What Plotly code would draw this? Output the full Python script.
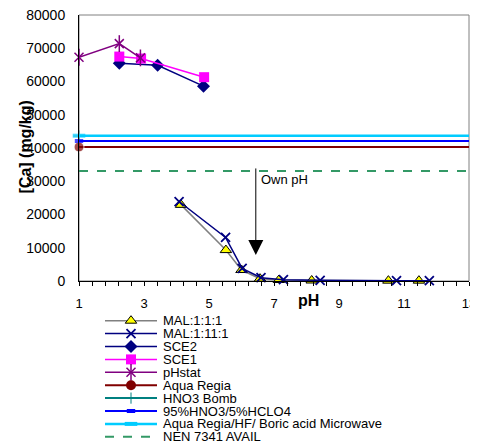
import plotly.graph_objects as go

# ---------------- data ----------------
mal111_ph = [4.14, 5.52, 6.00, 6.57, 7.15, 8.16, 10.52, 11.46]
mal111_ca = [22900, 9300, 3300, 700, 300, 150, 100, 100]

mal1111_ph = [4.08, 5.51, 6.02, 6.60, 7.29, 8.42, 10.77, 11.78]
mal1111_ca = [23900, 13100, 3800, 1000, 400, 200, 100, 100]

sce2_ph = [2.24, 3.42, 4.83]
sce2_ca = [65500, 64900, 58600]

sce1_ph = [2.24, 2.91, 4.85]
sce1_ca = [67500, 66900, 61300]

phstat_ph = [1.0, 2.24, 2.89]
phstat_ca = [67300, 71400, 67100]

ref_ph = [1, 13]
aqua_regia = 40300
hno3_bomb = 43600
hno3_hclo4 = 42100
aqua_hf = 43700
nen7341 = 33100

own_ph = 6.44
own_ph_top = 34300
own_ph_tip = 7800

x_ticks = [1, 3, 5, 7, 9, 11, 13]
y_ticks = [0, 10000, 20000, 30000, 40000, 50000, 60000, 70000, 80000]

legend_names = ["MAL:1:1:1", "MAL:1:11:1", "SCE2", "SCE1", "pHstat", "Aqua Regia",
                "HNO3 Bomb", "95%HNO3/5%HCLO4", "Aqua Regia/HF/ Boric acid Microwave",
                "NEN 7341 AVAIL"]

# ---------------- layout geometry (page pixels) ----------------
FONT = "Liberation Sans, Arial, sans-serif"
PAGE_W, PAGE_H = 478, 446
OFF = 8  # default page body margin
W, H = PAGE_W - OFF, PAGE_H - OFF


def fx(px):
    return px - OFF


def fy(py):
    return py - OFF


PX_L, PX_R, PX_T, PX_B = fx(79), fx(469), fy(15), fy(281)

PURPLE = "#800080"
styles = [
    dict(line=dict(color="#808080", width=1.5), marker=dict(symbol="triangle-up", size=10, color="#FFFF00", line=dict(color="black", width=1))),
    dict(line=dict(color="#000080", width=1.5), marker=dict(symbol="x-thin", size=9, color="#000080", line=dict(color="#000080", width=1.8))),
    dict(line=dict(color="#000080", width=1.5), marker=dict(symbol="diamond", size=10, color="#000080")),
    dict(line=dict(color="#FF00FF", width=1.5), marker=dict(symbol="square", size=10, color="#FF00FF")),
    dict(line=dict(color=PURPLE, width=1.5), marker=dict(symbol="x-thin", size=9, color=PURPLE, line=dict(color=PURPLE, width=1.5))),
    dict(line=dict(color="#800000", width=2), marker=dict(symbol="circle", size=10, color="#800000")),
    dict(line=dict(color="#008080", width=2), marker=dict(symbol="cross-thin", size=8, color="#008080", line=dict(color="#008080", width=1))),
    dict(line=dict(color="#0000FF", width=2), marker=dict(symbol="line-ew", size=6, color="#0000FF", line=dict(color="#0000FF", width=4))),
    dict(line=dict(color="#00CCFF", width=2.5), marker=dict(symbol="line-ew", size=9, color="#00CCFF", line=dict(color="#00CCFF", width=4))),
    dict(line=dict(color="#339966", width=2, dash="dash"), marker=None),
]
# vertical stroke that completes the pHstat star marker
star_bar = dict(symbol="line-ns", size=12, color=PURPLE, line=dict(color=PURPLE, width=1.5))

fig = go.Figure()

series = [
    (mal111_ph, mal111_ca),
    (mal1111_ph, mal1111_ca),
    (sce2_ph, sce2_ca),
    (sce1_ph, sce1_ca),
    (phstat_ph, phstat_ca),
]
for i, (xs, ys) in enumerate(series):
    st = styles[i]
    fig.add_trace(go.Scatter(x=xs, y=ys, mode="lines+markers", name=legend_names[i],
                             line=st["line"], marker=st["marker"], cliponaxis=False,
                             showlegend=False))
    if i == 4:
        fig.add_trace(go.Scatter(x=xs, y=ys, mode="markers", marker=star_bar, cliponaxis=False,
                                 showlegend=False, hoverinfo="skip"))

refs = [aqua_regia, hno3_bomb, hno3_hclo4, aqua_hf]
for j, val in enumerate(refs):
    i = 5 + j
    st = styles[i]
    m = dict(st["marker"])
    m["size"] = [m["size"], 0]
    fig.add_trace(go.Scatter(x=ref_ph, y=[val, val], mode="lines+markers", name=legend_names[i],
                             line=st["line"], marker=m, cliponaxis=False, showlegend=False))
fig.add_trace(go.Scatter(x=ref_ph, y=[nen7341, nen7341], mode="lines", name=legend_names[9],
                         line=styles[9]["line"], showlegend=False))

# ---------------- manual legend (pixel coordinates on overlay axes) ----------------
LEG_Y0, LEG_DY = fy(320.7), 12.9
LEG_X0, LEG_X1, LEG_TX = fx(105), fx(157), fx(161)
for i, name in enumerate(legend_names):
    yy = LEG_Y0 + i * LEG_DY
    st = styles[i]
    fig.add_trace(go.Scatter(x=[LEG_X0, LEG_X1], y=[yy, yy], mode="lines", line=st["line"],
                             xaxis="x2", yaxis="y2", showlegend=False, hoverinfo="skip"))
    if st["marker"] is not None:
        fig.add_trace(go.Scatter(x=[(LEG_X0 + LEG_X1) / 2], y=[yy], mode="markers", marker=st["marker"],
                                 xaxis="x2", yaxis="y2", showlegend=False, hoverinfo="skip"))
    if i == 4:
        fig.add_trace(go.Scatter(x=[(LEG_X0 + LEG_X1) / 2], y=[yy], mode="markers", marker=star_bar,
                                 xaxis="x2", yaxis="y2", showlegend=False, hoverinfo="skip"))
    fig.add_annotation(x=LEG_TX, y=yy, xref="x2", yref="y2", text=name, showarrow=False,
                       xanchor="left", yanchor="middle", font=dict(family=FONT, size=13, color="black"))

# axis titles
fig.add_annotation(x=fx(25), y=fy(147.5), xref="x2", yref="y2", text="<b>[Ca] (mg/kg)</b>", textangle=-90,
                   showarrow=False, xanchor="center", yanchor="middle",
                   font=dict(family=FONT, size=16, color="black"))
fig.add_annotation(x=fx(308), y=fy(300), xref="x2", yref="y2", text="<b>pH</b>", showarrow=False,
                   xanchor="center", yanchor="middle", font=dict(family=FONT, size=16, color="black"))

# Own pH arrow
fig.add_annotation(x=own_ph, y=own_ph_tip, ax=own_ph, ay=own_ph_top, xref="x", yref="y",
                   axref="x", ayref="y", showarrow=True, arrowhead=2, arrowsize=3,
                   arrowwidth=1, arrowcolor="black", text="")
fig.add_annotation(x=own_ph + 0.1, y=30600, xref="x", yref="y", text="Own pH", showarrow=False,
                   xanchor="left", yanchor="middle", font=dict(family=FONT, size=13, color="black"))

# plot area border
fig.add_shape(type="rect", xref="paper", yref="paper",
              x0=PX_L / W, x1=PX_R / W, y0=(H - PX_B) / H, y1=(H - PX_T) / H,
              line=dict(color="#808080", width=1), layer="below")

fig.update_layout(
    width=W, height=H, autosize=False,
    margin=dict(l=0, r=0, t=0, b=0, pad=0, autoexpand=False),
    paper_bgcolor="white", plot_bgcolor="rgba(0,0,0,0)",
    font=dict(family=FONT, size=13, color="black"),
    xaxis=dict(domain=[PX_L / W, PX_R / W], range=[1, 13], tickvals=x_ticks,
               showgrid=False, zeroline=False, showline=True, linecolor="black", linewidth=1,
               ticks="outside", ticklen=4, tickcolor="black", automargin=False,
               ticklabeloverflow="allow",
               minor=dict(dtick=0.4, tick0=1, ticks="outside", ticklen=4, tickcolor="black"),
               tickfont=dict(family=FONT, size=13), ticklabelstandoff=6, anchor="y"),
    yaxis=dict(domain=[(H - PX_B) / H, (H - PX_T) / H], range=[0, 80000], tickvals=y_ticks,
               tickformat="d", showgrid=False, zeroline=False, showline=True, linecolor="black",
               linewidth=1, ticks="", tickfont=dict(family=FONT, size=14), ticklabelstandoff=10,
               ticklabeloverflow="allow", anchor="x", automargin=False),
    xaxis2=dict(domain=[0, 1], range=[0, W], visible=False, anchor="y2", fixedrange=True,
                automargin=False),
    yaxis2=dict(domain=[0, 1], range=[H, 0], visible=False, anchor="x2", fixedrange=True,
                automargin=False),
    showlegend=False,
)

fig.write_html("out.html")
